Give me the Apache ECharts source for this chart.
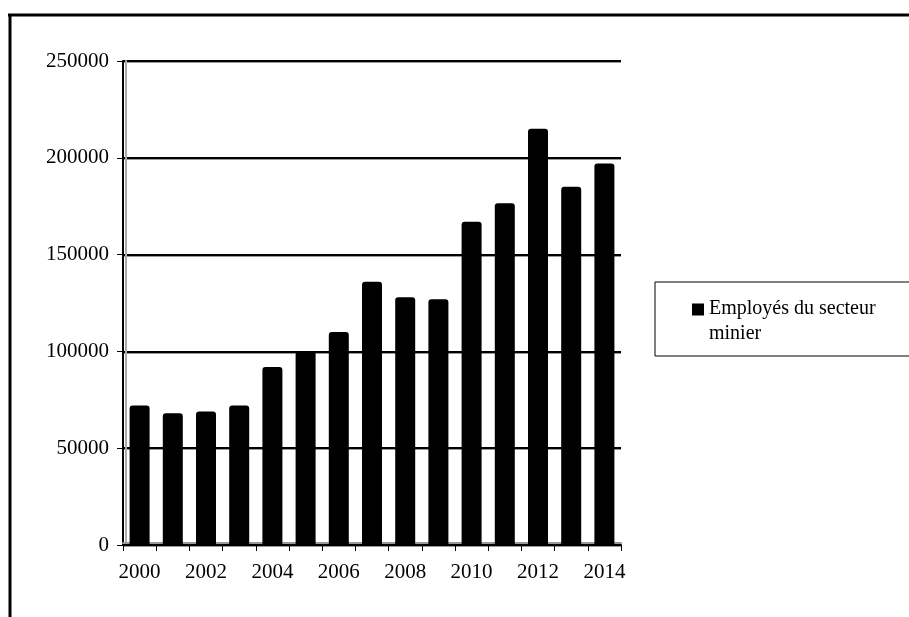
<!DOCTYPE html>
<html><head><meta charset="utf-8">
<script src="https://cdn.jsdelivr.net/npm/echarts@6/dist/echarts.min.js"></script>
<style>html,body{margin:0;padding:0;background:#fff}#c{width:909px;height:617px}</style>
</head><body><div id="c"></div>
<script>
const categories = ['2000','2001','2002','2003','2004','2005','2006','2007','2008','2009','2010','2011','2012','2013','2014'];
const seriesName = 'Employés du secteur\nminier';
const values = [72000, 68000, 69000, 72000, 92000, 100000, 110000, 136000, 128000, 127000, 167000, 176500, 215000, 185000, 197000];
const yTicks = [0, 50000, 100000, 150000, 200000, 250000];

const FONT = '"Liberation Serif", "Times New Roman", serif';
const chart = echarts.init(document.getElementById('c'), null, {renderer: 'canvas'});
chart.setOption({
  animation: false,
  backgroundColor: '#fff',
  grid: {left: 123, right: 288, top: 61, bottom: 72, containLabel: false},
  xAxis: {
    type: 'category',
    data: categories,
    boundaryGap: true,
    axisLine: {lineStyle: {color: '#000', width: 2, shadowColor: '#999', shadowOffsetY: -2, shadowBlur: 0}},
    axisTick: {show: true, interval: 0, length: 6, lineStyle: {color: '#000', width: 1}},
    axisLabel: {interval: 1, color: '#000', fontFamily: FONT, fontSize: 21, margin: 17},
  },
  yAxis: {
    type: 'value',
    min: yTicks[0], max: yTicks[yTicks.length - 1], interval: yTicks[1] - yTicks[0],
    axisLine: {show: true, lineStyle: {color: '#000', width: 2, shadowColor: '#aaa', shadowOffsetX: 3, shadowBlur: 0}},
    axisTick: {show: true, length: 6, lineStyle: {color: '#000', width: 1}},
    axisLabel: {color: '#000', fontFamily: FONT, fontSize: 21, margin: 14, formatter: v => String(v)},
    splitLine: {show: true, lineStyle: {color: '#000', width: 2, shadowColor: '#999', shadowOffsetY: 1, shadowBlur: 0}}
  },
  legend: {
    show: true,
    orient: 'vertical',
    left: 655, top: 282,
    padding: [14, 120, 10, 37],
    borderColor: '#000', borderWidth: 1,
    itemWidth: 12, itemHeight: 35,
    icon: 'path://M0,0L12,0L12,12L0,12Z M0,34.95L0.05,34.95L0.05,35L0,35Z',
    textStyle: {color: '#000', fontFamily: FONT, fontSize: 20, lineHeight: 25},
    data: [seriesName]
  },
  graphic: [
    {type: 'line', shape: {x1: 8, y1: 15, x2: 909, y2: 15}, style: {stroke: '#000', lineWidth: 3}},
    {type: 'line', shape: {x1: 10, y1: 15, x2: 10, y2: 617}, style: {stroke: '#000', lineWidth: 3}}
  ],
  series: [{
    name: seriesName,
    type: 'bar',
    data: values,
    barWidth: 20,
    itemStyle: {color: '#000', borderRadius: [3, 3, 0, 0]}
  }]
});
</script></body></html>
